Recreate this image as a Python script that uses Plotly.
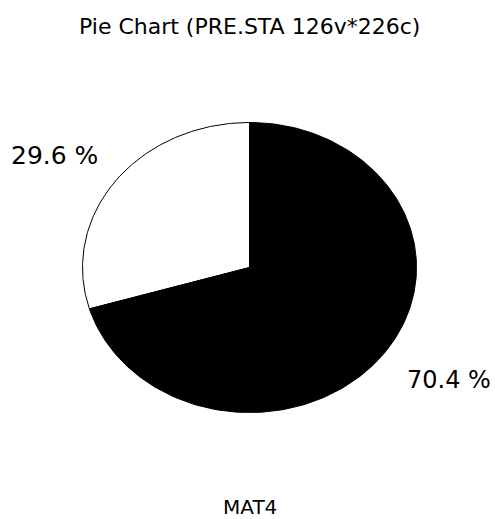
import numpy as np
import plotly.graph_objects as go

# ---- data ----
categories = ["Group 1", "Group 2"]
values = [29.6, 70.4]
value_labels = ["29.6 %", "70.4 %"]
slice_colors = ["white", "black"]
title_text = "Pie Chart (PRE.STA 126v*226c)"
variable_name = "MAT4"

W, H = 495, 519
# plot area in pixels (ellipse bounds)
left, right, top, bottom = 82, 417, 122, 413

fig = go.Figure()

total = sum(values)
start = np.pi / 2  # 12 o'clock, slices go counter-clockwise
for cat, val, col in zip(categories, values, slice_colors):
    sweep = 2 * np.pi * val / total
    t = np.linspace(start, start + sweep, 200)
    xs = np.concatenate([[0.0], np.cos(t), [0.0]])
    ys = np.concatenate([[0.0], np.sin(t), [0.0]])
    fig.add_trace(go.Scatter(
        x=xs, y=ys, mode="lines", fill="toself", fillcolor=col,
        line=dict(color="black", width=1), name=cat,
        hoverinfo="name", showlegend=False,
    ))
    start += sweep

pw = right - left
ph = bottom - top

def px(x):
    return (x - left) / pw

def py(y):
    return (bottom - y) / ph

font_family = "DejaVu Sans"
annotations = [
    dict(text=title_text, x=px(249), y=py(26), xref="paper", yref="paper",
         showarrow=False, font=dict(family=font_family, size=22, color="black"),
         xanchor="center", yanchor="middle"),
    dict(text=value_labels[0], x=px(54), y=py(155), xref="paper", yref="paper",
         showarrow=False, font=dict(family=font_family, size=25, color="black"),
         xanchor="center", yanchor="middle"),
    dict(text=value_labels[1], x=px(449), y=py(380), xref="paper", yref="paper",
         showarrow=False, font=dict(family=font_family, size=24, color="black"),
         xanchor="center", yanchor="middle"),
    dict(text=variable_name, x=px(250), y=py(507), xref="paper", yref="paper",
         showarrow=False, font=dict(family=font_family, size=20, color="black"),
         xanchor="center", yanchor="middle"),
]

fig.update_layout(
    width=W, height=H,
    margin=dict(l=left, r=W - right, t=top, b=H - bottom, pad=0),
    paper_bgcolor="white", plot_bgcolor="white",
    xaxis=dict(range=[-1.003, 1.003], visible=False, fixedrange=True),
    yaxis=dict(range=[-1.003, 1.003], visible=False, fixedrange=True),
    annotations=annotations,
    showlegend=False,
)

fig.write_html(
    "out.html",
    config={"displayModeBar": False},
    post_script="document.body.style.margin='0';document.body.style.overflow='hidden';",
)
